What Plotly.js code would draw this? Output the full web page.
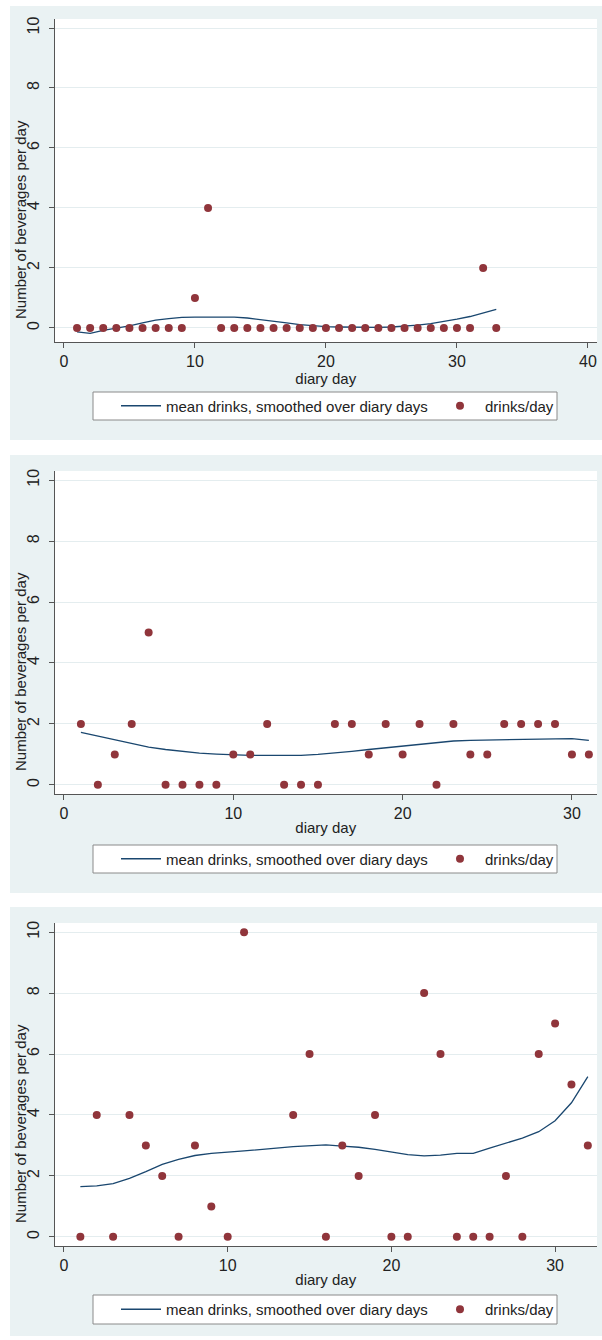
<!DOCTYPE html>
<html>
<head>
<meta charset="utf-8">
<script src="https://cdn.plot.ly/plotly-3.0.1.min.js"></script>
<style>
html,body{margin:0;padding:0;background:#ffffff;}
#chart{width:602px;height:1340px;}
</style>
</head>
<body>
<div id="chart"></div>
<script>
// ---- data ----
const seriesNames = ["mean drinks, smoothed over diary days", "drinks/day"];
const yTitle = "Number of beverages per day";
const xTitle = "diary day";
const yTicks = [0, 2, 4, 6, 8, 10];
const xTicks1 = [0, 10, 20, 30, 40];
const xTicks2 = [0, 10, 20, 30];
const xTicks3 = [0, 10, 20, 30];

const days1 = [1,2,3,4,5,6,7,8,9,10,11,12,13,14,15,16,17,18,19,20,21,22,23,24,25,26,27,28,29,30,31,32,33];
const drinks1 = [0,0,0,0,0,0,0,0,0,1,4,0,0,0,0,0,0,0,0,0,0,0,0,0,0,0,0,0,0,0,0,2,0];
const smooth1 = [-0.13,-0.18,-0.08,-0.01,0.07,0.17,0.26,0.31,0.35,0.36,0.36,0.36,0.36,0.33,0.28,0.24,0.17,0.11,0.07,0.04,0.03,0.02,0.02,0.02,0.03,0.05,0.09,0.14,0.21,0.29,0.38,0.5,0.62];

const days2 = [1,2,3,4,5,6,7,8,9,10,11,12,13,14,15,16,17,18,19,20,21,22,23,24,25,26,27,28,29,30,31];
const drinks2 = [2,0,1,2,5,0,0,0,0,1,1,2,0,0,0,2,2,1,2,1,2,0,2,1,1,2,2,2,2,1,1];
const smooth2 = [1.72,1.6,1.46,1.34,1.24,1.16,1.1,1.04,1.01,0.98,0.97,0.97,0.97,0.97,1.0,1.04,1.1,1.16,1.22,1.28,1.34,1.39,1.44,1.46,1.47,1.48,1.49,1.5,1.5,1.52,1.46];

const days3 = [1,2,3,4,5,6,7,8,9,10,11,14,15,16,17,18,19,20,21,22,23,24,25,26,27,28,29,30,31,32];
const drinks3 = [0,4,0,4,3,2,0,3,1,0,10,4,6,0,3,2,4,0,0,8,6,0,0,0,2,0,6,7,5,3];
const smooth3 = [1.65,1.67,1.75,1.92,2.14,2.38,2.54,2.67,2.74,2.77,2.82,2.96,3.0,3.02,2.98,2.94,2.87,2.78,2.7,2.66,2.68,2.74,2.74,2.91,3.08,3.24,3.45,3.81,4.4,5.26];

// ---- styling ----
const W = 602, H = 1340;
const FONT = "Liberation Sans, Arial, Helvetica, sans-serif";
const lineColor = "#1a476f";
const markerColor = "#90353b";
const panelBg = "#eaf2f3";
const gridColor = "#e4edef";
const axisColor = "#555555";
const textColor = "#222222";
const py = v => 1 - v / H;
const px = v => v / W;

const panels = [
  {days: days1, drinks: drinks1, smooth: smooth1, xticks: xTicks1, xr: [-0.72, 40.69], yr: [-0.47, 10.3],
   plotTop: 19, plotBot: 342, bgTop: 6, bgBot: 440, legTop: 392, legBot: 420},
  {days: days2, drinks: drinks2, smooth: smooth2, xticks: xTicks2, xr: [-0.56, 31.48], yr: [-0.3, 10.3],
   plotTop: 471, plotBot: 794, bgTop: 455, bgBot: 893, legTop: 845, legBot: 873},
  {days: days3, drinks: drinks3, smooth: smooth3, xticks: xTicks3, xr: [-0.58, 32.56], yr: [-0.3, 10.3],
   plotTop: 923, plotBot: 1246, bgTop: 907, bgBot: 1336, legTop: 1295, legBot: 1324}
];

const traces = [];
const layout = {
  width: W, height: H,
  margin: {l: 0, r: 0, t: 0, b: 0},
  paper_bgcolor: "#ffffff",
  plot_bgcolor: "rgba(0,0,0,0)",
  font: {family: FONT, size: 15, color: textColor},
  showlegend: true,
  shapes: [],
  annotations: []
};

panels.forEach((p, i) => {
  const n = i === 0 ? "" : String(i + 1);
  const xa = "x" + n, ya = "y" + n;
  const legName = "legend" + n;
  traces.push({
    type: "scatter", mode: "lines", x: p.days, y: p.smooth,
    xaxis: xa, yaxis: ya, name: seriesNames[0], legend: legName,
    line: {color: lineColor, width: 1.3}, legendwidth: 264, hoverinfo: "skip"
  });
  traces.push({
    type: "scatter", mode: "markers", x: p.days, y: p.drinks,
    xaxis: xa, yaxis: ya, name: seriesNames[1], legend: legName,
    marker: {color: markerColor, size: 8}, hoverinfo: "skip"
  });
  layout["xaxis" + n] = {
    domain: [px(54.5), px(597)], anchor: ya, range: p.xr,
    tickmode: "array", tickvals: p.xticks, ticktext: p.xticks.map(String),
    showgrid: false, zeroline: false, showline: true, linecolor: axisColor, linewidth: 1,
    ticks: "outside", ticklen: 5, tickcolor: axisColor,
    tickfont: {family: FONT, size: 16, color: textColor},
    title: {text: xTitle, font: {family: FONT, size: 15, color: textColor}, standoff: 1},
    automargin: false, fixedrange: true
  };
  layout["yaxis" + n] = {
    domain: [py(p.plotBot), py(p.plotTop)], anchor: xa, range: p.yr,
    tickmode: "array", tickvals: yTicks, ticktext: yTicks.map(String), tickangle: -90,
    showgrid: true, gridcolor: gridColor, gridwidth: 1,
    zeroline: false, showline: true, linecolor: axisColor, linewidth: 1,
    ticks: "outside", ticklen: 5, tickcolor: axisColor, ticklabelstandoff: 3,
    tickfont: {family: FONT, size: 16, color: textColor},
    automargin: false, fixedrange: true
  };
  layout[legName] = {
    x: px(116), xanchor: "left", xref: "paper",
    y: py((p.legTop + p.legBot) / 2), yanchor: "middle", yref: "paper",
    orientation: "h", bgcolor: "rgba(0,0,0,0)", borderwidth: 0, itemwidth: 40,
    font: {family: FONT, size: 15, color: textColor}, traceorder: "normal"
  };
  // panel background
  layout.shapes.push({type: "rect", xref: "paper", yref: "paper", layer: "below",
    x0: px(10), x1: 1, y0: py(p.bgBot), y1: py(p.bgTop),
    fillcolor: panelBg, line: {width: 0}});
  // legend box
  layout.shapes.push({type: "rect", xref: "paper", yref: "paper", layer: "below",
    x0: px(93), x1: px(557), y0: py(p.legBot), y1: py(p.legTop),
    fillcolor: "#ffffff", line: {color: "#8a8a8a", width: 1}});
  // plot area white
  layout.shapes.push({type: "rect", xref: xa + " domain", yref: ya + " domain", layer: "below",
    x0: 0, x1: 1, y0: 0, y1: 1, fillcolor: "#ffffff", line: {width: 0}});
  // y-axis title
  layout.annotations.push({
    text: yTitle, xref: "paper", yref: "paper", showarrow: false,
    x: px(20), y: py(p.plotTop + 201), xanchor: "center", yanchor: "middle",
    textangle: -90, font: {family: FONT, size: 15, color: textColor}
  });
});

Plotly.newPlot("chart", traces, layout, {staticPlot: true, displayModeBar: false});
</script>
</body>
</html>
